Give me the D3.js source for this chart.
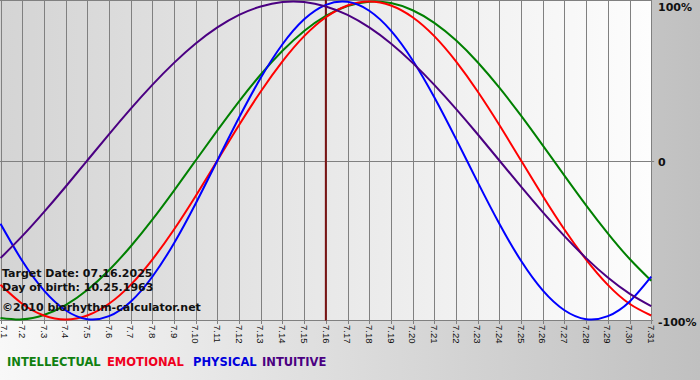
<!DOCTYPE html>
<html><head><meta charset="utf-8">
<script src="https://cdn.jsdelivr.net/npm/d3@7"></script>
<style>
html,body{margin:0;padding:0;background:#fff;}
svg{display:block;}
</style></head>
<body>
<svg id="chart" width="700" height="380"></svg>
<script>
const dayLabels = ["7.1","7.2","7.3","7.4","7.5","7.6","7.7","7.8","7.9","7.10","7.11","7.12","7.13","7.14","7.15","7.16","7.17","7.18","7.19","7.20","7.21","7.22","7.23","7.24","7.25","7.26","7.27","7.28","7.29","7.30","7.31"];
const intellectual = [-0.990,-0.999,-0.972,-0.910,-0.815,-0.690,-0.541,-0.372,-0.189,0,0.189,0.372,0.541,0.690,0.815,0.910,0.972,0.999,0.990,0.945,0.866,0.756,0.618,0.458,0.282,0.095,-0.095,-0.282,-0.458,-0.618,-0.756];
const emotional = [-0.782,-0.901,-0.975,-1,-0.975,-0.901,-0.782,-0.623,-0.434,-0.223,0,0.223,0.434,0.623,0.782,0.901,0.975,1,0.975,0.901,0.782,0.623,0.434,0.223,0,-0.223,-0.434,-0.623,-0.782,-0.901,-0.975];
const physical = [-0.398,-0.631,-0.817,-0.942,-0.998,-0.979,-0.888,-0.731,-0.520,-0.270,0,0.270,0.520,0.731,0.888,0.979,0.998,0.942,0.817,0.631,0.398,0.136,-0.136,-0.398,-0.631,-0.817,-0.942,-0.998,-0.979,-0.888,-0.731];
const intuitive = [-0.614,-0.476,-0.325,-0.165,0,0.165,0.325,0.476,0.614,0.736,0.837,0.916,0.969,0.997,0.997,0.969,0.916,0.837,0.736,0.614,0.476,0.325,0.165,0,-0.165,-0.325,-0.476,-0.614,-0.736,-0.837,-0.916];
const yTicks = [1, 0, -1];
const yTickLabels = ["100%", "0", "-100%"];
const targetDay = "7.16";
const infoLines = ["Target Date: 07.16.2025", "Day of birth: 10.25.1963", "\u00A92010 biorhythm-calculator.net"];
const legendNames = ["INTELLECTUAL", "EMOTIONAL", "PHYSICAL", "INTUITIVE"];

const series = [
  {name: "INTELLECTUAL", values: intellectual, color: "#008000"},
  {name: "EMOTIONAL", values: emotional, color: "#ff0000"},
  {name: "PHYSICAL", values: physical, color: "#0000ff"},
  {name: "INTUITIVE", values: intuitive, color: "#4b0082"}
];
const legendColors = {"INTELLECTUAL":"#108010","EMOTIONAL":"#f00020","PHYSICAL":"#0000dd","INTUITIVE":"#4b0082"};

const svg = d3.select("#chart");
const defs = svg.append("defs");
const g1 = defs.append("linearGradient").attr("id","bgGrad").attr("x1","0").attr("x2","1").attr("y1","0").attr("y2","0");
g1.append("stop").attr("offset","0%").attr("stop-color","#f8f8f8");
g1.append("stop").attr("offset","100%").attr("stop-color","#c0c0c0");
const g2 = defs.append("linearGradient").attr("id","plotGrad").attr("x1","0").attr("x2","1").attr("y1","0").attr("y2","0");
g2.append("stop").attr("offset","0%").attr("stop-color","#d4d4d4");
g2.append("stop").attr("offset","100%").attr("stop-color","#fdfdfd");

const x = d3.scalePoint().domain(dayLabels).range([0.5, 651.2]);
const y = d3.scaleLinear().domain([-1, 1]).range([319.5, 1.5]);
const plotL = 0, plotR = x(dayLabels[dayLabels.length-1]), plotT = 0, plotB = 320.5;

svg.append("rect").attr("width",700).attr("height",380).attr("fill","url(#bgGrad)");
svg.append("rect").attr("x",plotL).attr("y",plotT).attr("width",plotR-plotL).attr("height",plotB-plotT).attr("fill","url(#plotGrad)");

// vertical grid + ticks
svg.append("g").selectAll("line").data(dayLabels).join("line")
  .attr("x1", d => Math.round(x(d)) + 0.5).attr("x2", d => Math.round(x(d)) + 0.5)
  .attr("y1", 0).attr("y2", 324)
  .attr("stroke", "#808080").attr("stroke-width", 1);
// top, zero and bottom lines
svg.append("line").attr("x1",0).attr("x2",plotR).attr("y1",0.5).attr("y2",0.5).attr("stroke","#808080");
svg.append("line").attr("x1",0).attr("x2",plotR+3).attr("y1",Math.round(y(0))+0.5).attr("y2",Math.round(y(0))+0.5).attr("stroke","#808080");
svg.append("line").attr("x1",0).attr("x2",plotR+2).attr("y1",plotB).attr("y2",plotB).attr("stroke","#808080");

// target day line
svg.append("line").attr("x1", x(targetDay)).attr("x2", x(targetDay)).attr("y1", 0).attr("y2", plotB)
  .attr("stroke", "#7a1414").attr("stroke-width", 2);

// curves
const line = d3.line().x((d,i) => x(dayLabels[i])).y(d => y(d)).curve(d3.curveNatural);
svg.append("g").selectAll("path").data(series).join("path")
  .attr("d", d => line(d.values)).attr("fill","none")
  .attr("stroke", d => d.color).attr("stroke-width", 2);

// info text
svg.append("g").selectAll("text").data(infoLines).join("text")
  .attr("x", 2).attr("y", (d,i) => [277, 291, 311][i])
  .attr("font-family", "DejaVu Sans, Verdana, sans-serif").attr("font-weight", "bold").attr("font-size", "11px")
  .attr("fill", "#111").text(d => d);

// right labels
const yOff = [9.5, 5.5, 6.5];
svg.append("g").selectAll("text").data(yTicks).join("text")
  .attr("x", 658).attr("y", (d,i) => y(d) + yOff[i])
  .attr("font-family", "DejaVu Sans, Verdana, sans-serif").attr("font-weight", "bold").attr("font-size", "11px")
  .attr("fill", "#111").text((d,i) => yTickLabels[i]);

// x labels rotated
svg.append("g").selectAll("text").data(dayLabels).join("text")
  .attr("transform", (d,i) => `translate(${Math.max(x(d), 4)},${325}) rotate(90)`)
  .attr("dy", "0.35em")
  .attr("font-family", "Liberation Sans, Arial, sans-serif").attr("font-size", "9.5px")
  .attr("fill", "#111").text(d => d);

// legend
const legendX = [7, 107, 193, 262];
svg.append("g").selectAll("text").data(legendNames).join("text")
  .attr("x", (d,i) => legendX[i]).attr("y", 366)
  .attr("font-family", "DejaVu Sans, Verdana, sans-serif").attr("font-weight", "bold").attr("font-size", "11.5px")
  .attr("fill", d => legendColors[d]).text(d => d);
</script>
</body></html>
